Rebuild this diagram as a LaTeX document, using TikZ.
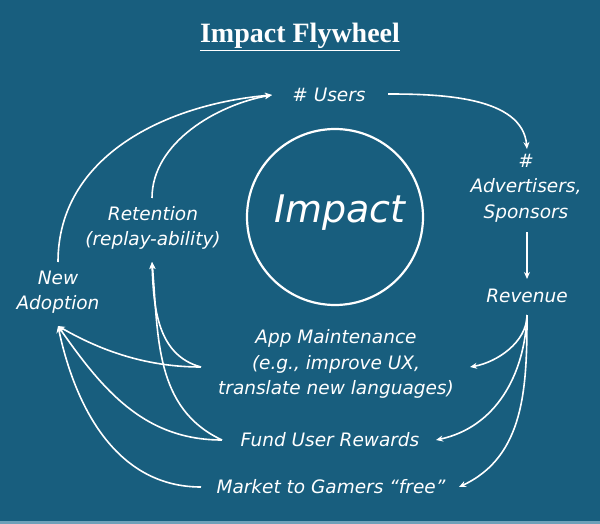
\documentclass[tikz,border=0pt]{standalone}
\usepackage{fontspec}
\setmainfont{Liberation Serif}
\newfontfamily\hand{DejaVu Sans}
\usetikzlibrary{arrows.meta}
\definecolor{bgblue}{RGB}{24,94,126}
\definecolor{stripblue}{RGB}{110,160,185}
\begin{document}
\begin{tikzpicture}[x=1pt,y=-1pt,
  lbl/.style={text=white,font=\hand\itshape\fontsize{18.5}{25.5}\selectfont,align=center,inner sep=0pt},
  flow/.style={draw=white,line width=1.6pt,-{Stealth[length=7pt,width=6pt]}},
  plain/.style={draw=white,line width=1.6pt}]
\fill[bgblue] (0,0) rectangle (600,524);
\fill[stripblue] (0,521) rectangle (600,524);
\useasboundingbox (0,0) rectangle (600,524);
% title
\node[text=white,font=\bfseries\fontsize{28}{32}\selectfont,inner sep=0pt] (title) at (300,37) {\underline{Impact Flywheel}};
% circle
\node[draw=white,line width=2.2pt,circle,minimum size=176pt,inner sep=0pt] (circ) at (335,217) {};
\node[text=white,font=\hand\itshape\fontsize{38}{44}\selectfont,inner sep=0pt] (impact) at (340,213) {Impact};
% nodes
\node[lbl] (users) at (329,95) {\# Users};
\node[lbl] (adv) at (526,188) {\#\\Advertisers,\\Sponsors};
\node[lbl] (rev) at (527,296) {Revenue};
\node[lbl] (app) at (336,364) {App Maintenance\\(e.g., improve UX,\\translate new languages)};
\node[lbl] (fund) at (330,440) {Fund User Rewards};
\node[lbl] (market) at (331,487) {Market to Gamers “free”};
\node[lbl] (ret) at (153,228) {Retention\\(replay-ability)};
\node[lbl] (newad) at (58,292) {New\\Adoption};
% anchor coordinates
\coordinate (usersL) at (272,95);
\coordinate (usersR) at (388,94);
\coordinate (advT) at (527,149);
\coordinate (advB) at (527,232);
\coordinate (revT) at (527,279);
\coordinate (revB) at (527,315);
\coordinate (appR) at (470,367);
\coordinate (appL) at (201,367);
\coordinate (fundR) at (436,440);
\coordinate (fundL) at (222,440);
\coordinate (marketR) at (459,487);
\coordinate (marketL) at (201,487);
\coordinate (retT) at (152,198);
\coordinate (retB) at (152,262);
\coordinate (newT) at (58,262);
\coordinate (newB) at (58,326);
% connectors
\draw[flow] (usersR) to[out=0,in=95,looseness=0.9] (advT);
\draw[flow] (advB) -- (revT);
\draw[flow] (revB) to[out=-90,in=10,looseness=0.9] (appR);
\draw[flow] (revB) to[out=-92,in=12,looseness=1] (fundR);
\draw[flow] (revB) to[out=-90,in=25,looseness=1] (marketR);
\draw[flow] (newT) to[out=90,in=185,looseness=1] (usersL);
\draw[flow] (retT) to[out=90,in=190,looseness=0.9] (usersL);
\draw[flow] (appL) to[out=180,in=-30,looseness=0.9] (newB);
\draw[flow] (fundL) to[out=180,in=-55,looseness=1] (newB);
\draw[flow] (marketL) to[out=180,in=-78,looseness=1] (newB);
\draw[flow] (appL) to[out=165,in=-88,looseness=1] (retB);
\draw[flow] (fundL) to[out=155,in=-85,looseness=1] (retB);
\end{tikzpicture}
\end{document}
